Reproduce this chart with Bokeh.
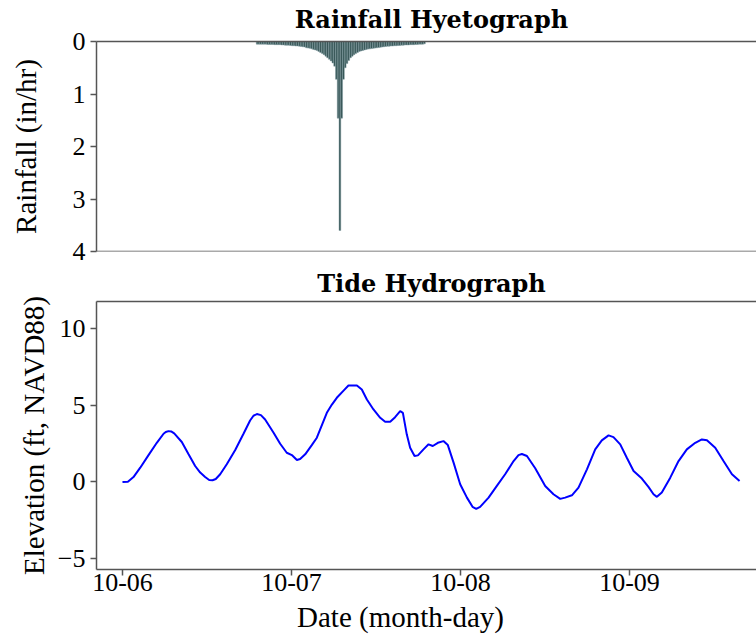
from bokeh.plotting import figure
from bokeh.layouts import column
from bokeh.models import Range1d, FixedTicker, ColumnDataSource, Span, LinearAxis
from bokeh.embed import file_html
from bokeh.resources import INLINE

# ---------------- data ----------------
# rainfall: 15-minute bars starting 10-06 19:00 (hours counted from 10-06 00:00)
rain_start_hour = 19.0
rain_step_hours = 0.25
rain_in_hr = [
    0.05, 0.05, 0.05, 0.05, 0.05, 0.05, 0.055, 0.055, 0.055, 0.055,
    0.06, 0.06, 0.06, 0.06, 0.065, 0.065, 0.07, 0.07, 0.07, 0.075,
    0.08, 0.08, 0.085, 0.085, 0.09, 0.095, 0.10, 0.105, 0.12, 0.125,
    0.13, 0.14, 0.15, 0.16, 0.17, 0.19, 0.21, 0.23, 0.25, 0.28,
    0.31, 0.34, 0.37, 0.41, 0.47, 0.72, 1.46, 3.6,
    1.46, 0.72, 0.50, 0.42, 0.36, 0.31, 0.28, 0.25, 0.23, 0.21,
    0.19, 0.18, 0.17, 0.16, 0.15, 0.145, 0.14, 0.135, 0.13, 0.125,
    0.12, 0.115, 0.11, 0.105, 0.10, 0.095, 0.09, 0.09, 0.085, 0.085,
    0.08, 0.08, 0.075, 0.075, 0.07, 0.07, 0.065, 0.065, 0.065, 0.06,
    0.06, 0.06, 0.055, 0.055, 0.05, 0.05, 0.05, 0.045,
]

# tide: time in days after 10-06 00:00, elevation in ft NAVD88
tide_day = [
    0.000, 0.032, 0.065, 0.105, 0.154, 0.203, 0.243, 0.256, 0.272, 0.288,
    0.306, 0.351, 0.391, 0.430, 0.460, 0.489, 0.513, 0.533, 0.552, 0.578,
    0.617, 0.667, 0.716, 0.755, 0.775, 0.795, 0.819, 0.844, 0.894, 0.933,
    0.972, 1.002, 1.032, 1.051, 1.081, 1.120, 1.150, 1.209, 1.239, 1.268,
    1.308, 1.337, 1.387, 1.416, 1.446, 1.485, 1.525, 1.554, 1.584, 1.613,
    1.643, 1.659, 1.682, 1.702, 1.728, 1.748, 1.781, 1.811, 1.836, 1.866,
    1.899, 1.925, 1.959, 1.998, 2.038, 2.071, 2.093, 2.116, 2.166, 2.215,
    2.264, 2.314, 2.343, 2.363, 2.393, 2.442, 2.501, 2.550, 2.590, 2.619,
    2.659, 2.698, 2.748, 2.797, 2.836, 2.876, 2.905, 2.945, 2.984, 3.024,
    3.073, 3.112, 3.142, 3.162, 3.191, 3.241, 3.290, 3.339, 3.389, 3.428,
    3.458, 3.507, 3.556, 3.606, 3.651,
]
tide_ft = [
    0.00, 0.02, 0.32, 0.93, 1.75, 2.55, 3.14, 3.25, 3.31, 3.29,
    3.16, 2.60, 1.80, 1.04, 0.61, 0.32, 0.13, 0.11, 0.19, 0.50,
    1.15, 2.08, 3.14, 4.00, 4.31, 4.42, 4.35, 4.07, 3.20, 2.49,
    1.90, 1.75, 1.43, 1.49, 1.80, 2.40, 2.88, 4.50, 5.04, 5.48,
    5.95, 6.28, 6.28, 6.02, 5.37, 4.72, 4.18, 3.92, 3.92, 4.22,
    4.61, 4.50, 3.10, 2.23, 1.69, 1.73, 2.12, 2.45, 2.34, 2.55,
    2.66, 2.40, 1.26, -0.15, -1.02, -1.62, -1.75, -1.62, -1.02, -0.26,
    0.50, 1.36, 1.75, 1.82, 1.69, 0.89, -0.26, -0.80, -1.10, -1.02,
    -0.87, -0.37, 0.82, 2.12, 2.71, 3.03, 2.92, 2.45, 1.58, 0.71,
    0.22, -0.32, -0.80, -0.97, -0.69, 0.28, 1.36, 2.12, 2.55, 2.77,
    2.71, 2.23, 1.36, 0.50, 0.06,
]

date_tick_hours = [0, 24, 48, 72]
date_tick_labels = ["10-06", "10-07", "10-08", "10-09"]
rain_ticks = [0, 1, 2, 3, 4]
elev_ticks = [-5, 0, 5, 10]

# ---------------- styling ----------------
SERIF = "Liberation Serif"
TITLE_FONT = "DejaVu Serif"
AX_COLOR = "#555555"

rain_hours = [rain_start_hour + rain_step_hours * (i + 0.5) for i in range(len(rain_in_hr))]
tide_hours = [d * 24.0 for d in tide_day]

x_range = Range1d(-3.69, 91.45)
rain_range = Range1d(4, 0)
elev_range = Range1d(-5.7, 11.75)


def style_axis(ax):
    ax.axis_line_color = AX_COLOR
    ax.axis_line_width = 1.5
    ax.major_tick_line_color = AX_COLOR
    ax.major_tick_line_width = 1.5
    ax.major_tick_out = 6
    ax.major_tick_in = 0
    ax.minor_tick_line_color = None
    ax.major_label_text_font = SERIF
    ax.major_label_text_font_size = "26px"
    ax.major_label_text_color = "black"
    ax.axis_label_text_font = SERIF
    ax.axis_label_text_font_size = "29px"
    ax.axis_label_text_font_style = "normal"
    ax.axis_label_text_color = "black"


def title_axis(p, title, standoff):
    # top spine of the panel, carrying the panel title as its label
    ax = LinearAxis(ticker=FixedTicker(ticks=[]))
    style_axis(ax)
    ax.major_tick_out = 0
    ax.major_label_standoff = 0
    ax.axis_label = title
    ax.axis_label_text_font = TITLE_FONT
    ax.axis_label_text_font_style = "bold"
    ax.axis_label_text_font_size = "24px"
    ax.axis_label_standoff = standoff
    p.add_layout(ax, "above")


def style_fig(p):
    p.grid.visible = False
    p.outline_line_color = None
    p.background_fill_color = "white"
    p.border_fill_color = "white"


# ---------------- top: hyetograph ----------------
p1 = figure(frame_width=670, frame_height=210, x_range=x_range, y_range=rain_range,
            output_backend="svg", toolbar_location=None, title=None,
            min_border_left=96, min_border_right=0, min_border_top=41, min_border_bottom=14)
style_fig(p1)
rain_src = ColumnDataSource(dict(h=rain_hours, r=rain_in_hr))
p1.vbar(x="h", top="r", bottom=0, width=rain_step_hours, source=rain_src,
        fill_color="#2F4F4F", line_color="#86A0A6", line_width=0.5)
style_axis(p1.yaxis[0])
p1.yaxis.ticker = FixedTicker(ticks=rain_ticks)
p1.yaxis.axis_label = "Rainfall (in/hr)"
p1.yaxis.axis_label_standoff = 28
p1.xaxis.visible = False
p1.add_layout(Span(location=rain_range.start, dimension="width",
                   line_color=AX_COLOR, line_width=1.5))
title_axis(p1, "Rainfall Hyetograph", 8)

# ---------------- bottom: tide hydrograph ----------------
p2 = figure(frame_width=670, frame_height=268, x_range=x_range, y_range=elev_range,
            output_backend="svg", toolbar_location=None, title=None,
            min_border_left=96, min_border_right=0, min_border_top=34, min_border_bottom=30)
style_fig(p2)
p2.line(tide_hours, tide_ft, line_color="#0000FF", line_width=2)
style_axis(p2.yaxis[0])
p2.yaxis.ticker = FixedTicker(ticks=elev_ticks)
p2.yaxis.axis_label = "Elevation (ft, NAVD88)"
p2.yaxis.axis_label_standoff = 5
style_axis(p2.xaxis[0])
p2.xaxis.ticker = FixedTicker(ticks=date_tick_hours)
p2.xaxis.major_label_overrides = {h: lab for h, lab in zip(date_tick_hours, date_tick_labels)}
p2.xaxis.major_label_standoff = -2
title_axis(p2, "Tide Hydrograph", 4)

# ---------------- shared x label strip (centred on the figure, as in the original) ----
p3 = figure(frame_width=608, frame_height=1, x_range=Range1d(0, 1), y_range=Range1d(0, 1),
            output_backend="svg", toolbar_location=None, title=None,
            min_border_left=96, min_border_right=0, min_border_top=0, min_border_bottom=0)
style_fig(p3)
p3.yaxis.visible = False
xa = p3.xaxis[0]
style_axis(xa)
xa.ticker = FixedTicker(ticks=[])
xa.axis_line_color = None
xa.major_tick_out = 0
xa.major_label_standoff = 0
xa.axis_label = "Date (month-day)"
xa.axis_label_standoff = 0

layout = column(p1, p2, p3)
open("out.html", "w").write(file_html(layout, INLINE))
